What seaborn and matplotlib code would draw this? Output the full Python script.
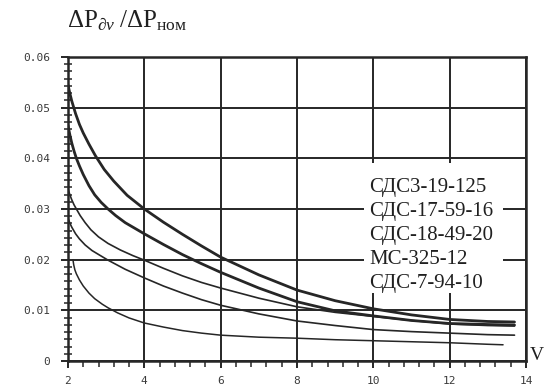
import matplotlib
matplotlib.use("Agg")
import matplotlib.pyplot as plt
from matplotlib.patches import Rectangle
from matplotlib.ticker import AutoMinorLocator, FixedLocator, FixedFormatter
import seaborn as sns
import pandas as pd

# Relative pressure loss vs. speed, one curve per machine type
v_a = [2.0, 2.05, 2.1, 2.2, 2.3, 2.4, 2.55, 2.72, 2.95, 3.2, 3.55, 4.0, 4.5, 5.0, 5.5, 6.0,
       7.0, 8.0, 9.0, 10.0, 11.0, 12.0, 13.0, 13.7]
p_a = [0.0545, 0.0528, 0.0513, 0.0488, 0.0467, 0.0450, 0.0428, 0.0405, 0.0378, 0.0355, 0.0327,
       0.0300, 0.0274, 0.0250, 0.0227, 0.0205, 0.0170, 0.0140, 0.0119, 0.0103, 0.0091, 0.0082,
       0.0078, 0.0077]

v_b = [2.0, 2.05, 2.1, 2.16, 2.22, 2.3, 2.4, 2.55, 2.7, 2.87, 3.05, 3.25, 3.5, 3.75, 4.0, 4.5,
       5.0, 5.5, 6.0, 7.0, 8.0, 9.0, 10.0, 11.0, 12.0, 13.0, 13.7]
p_b = [0.0465, 0.0446, 0.0430, 0.0414, 0.0400, 0.0385, 0.0368, 0.0346, 0.0328, 0.0313, 0.0300,
       0.0287, 0.0273, 0.0262, 0.0251, 0.0230, 0.0210, 0.0192, 0.0175, 0.0144, 0.0117, 0.0099,
       0.0089, 0.0080, 0.0074, 0.0072, 0.0071]

v_c = [2.0, 2.05, 2.1, 2.16, 2.22, 2.32, 2.45, 2.6, 2.8, 3.05, 3.375, 3.7, 4.0, 4.5, 5.0, 5.5,
       6.0, 7.0, 8.0, 9.0, 10.0, 11.0, 12.0, 13.0, 13.7]
p_c = [0.0340, 0.0328, 0.0318, 0.0308, 0.0300, 0.0287, 0.0273, 0.0259, 0.0245, 0.0232, 0.0219,
       0.0208, 0.0199, 0.0183, 0.0168, 0.0155, 0.0144, 0.0124, 0.0107, 0.0096, 0.0088, 0.0080,
       0.0073, 0.0070, 0.0069]

v_d = [2.0, 2.05, 2.1, 2.2, 2.3, 2.45, 2.63, 2.85, 3.05, 3.5, 4.0, 4.5, 5.0, 5.5, 6.0, 7.0,
       8.0, 9.0, 10.0, 11.0, 12.0, 13.0, 13.7]
p_d = [0.0282, 0.0272, 0.0264, 0.0251, 0.0241, 0.0229, 0.0218, 0.0208, 0.0199, 0.0181, 0.0164,
       0.0148, 0.0134, 0.0121, 0.0110, 0.0093, 0.0079, 0.0070, 0.0062, 0.0058, 0.0055, 0.0052,
       0.0051]

v_e = [2.13, 2.15, 2.18, 2.22, 2.3, 2.4, 2.55, 2.7, 2.9, 3.05, 3.3, 3.6, 4.0, 4.5, 5.0, 5.5,
       6.0, 7.0, 8.0, 9.0, 10.0, 11.0, 12.0, 13.0, 13.4]
p_e = [0.0200, 0.0190, 0.0180, 0.0172, 0.0160, 0.0148, 0.0134, 0.0123, 0.0112, 0.0105, 0.0095,
       0.0085, 0.0075, 0.0067, 0.0060, 0.0055, 0.0051, 0.0047, 0.0045, 0.0042, 0.0040, 0.0038,
       0.0036, 0.0033, 0.0032]

series_names = ["СДС3-19-125", "СДС-17-59-16", "СДС-18-49-20", "МС-325-12", "СДС-7-94-10"]
series_v = [v_a, v_b, v_c, v_d, v_e]
series_p = [p_a, p_b, p_c, p_d, p_e]
series_lw = [2.0, 2.0, 1.2, 1.2, 1.1]

x_ticks = [2, 4, 6, 8, 10, 12, 14]
x_labels = ["2", "4", "6", "8", "10", "12", "14"]
y_ticks = [0, 0.01, 0.02, 0.03, 0.04, 0.05, 0.06]
y_labels = ["0", "0.01", "0.02", "0.03", "0.04", "0.05", "0.06"]

ink = "#262626"
sns.set_style("white")
plt.rcParams["font.family"] = ["Liberation Serif", "DejaVu Serif"]
plt.rcParams["mathtext.fontset"] = "custom"
plt.rcParams["mathtext.rm"] = "Liberation Serif"
plt.rcParams["mathtext.it"] = "Liberation Serif:italic"

fig = plt.figure(figsize=(5.46, 3.88), dpi=100)
ax = fig.add_axes([0.1245, 0.0696, 0.8388, 0.7835])

frames = []
for name, vs, ps in zip(series_names, series_v, series_p):
    frames.append(pd.DataFrame({"v": vs, "p": ps, "series": name}))
df = pd.concat(frames, ignore_index=True)

for name, lw in zip(series_names, series_lw):
    sub = df[df["series"] == name]
    sns.lineplot(data=sub, x="v", y="p", ax=ax, color=ink, lw=lw, sort=False,
                 estimator=None, legend=False, zorder=3)

ax.set_xlim(2, 14)
ax.set_ylim(0, 0.06)
ax.xaxis.set_major_locator(FixedLocator(x_ticks))
ax.xaxis.set_major_formatter(FixedFormatter(x_labels))
ax.yaxis.set_major_locator(FixedLocator(y_ticks))
ax.yaxis.set_major_formatter(FixedFormatter(y_labels))
ax.xaxis.set_minor_locator(AutoMinorLocator(5))
ax.yaxis.set_minor_locator(AutoMinorLocator(7))

ax.set_axisbelow(True)
ax.grid(True, which="major", color=ink, lw=1.4)
for s in ax.spines.values():
    s.set_visible(True)
    s.set_color(ink)
    s.set_linewidth(1.8)

ax.tick_params(axis="both", which="both", bottom=True, left=True, top=False, right=False)
ax.tick_params(axis="both", which="major", direction="out", length=5, width=1.4,
               color=ink, labelcolor="#3a3a3a")
ax.tick_params(axis="y", which="minor", direction="inout", length=6, width=1.1, color=ink)
ax.tick_params(axis="x", which="minor", direction="out", length=4, width=1.1, color=ink)
ax.tick_params(axis="y", which="major", pad=8)
ax.tick_params(axis="x", which="major", pad=6)
for lab in ax.get_xticklabels() + ax.get_yticklabels():
    lab.set_fontfamily("DejaVu Sans Mono")
    lab.set_fontsize(8)

ax.set_xlabel("")
ax.set_ylabel("")

# white panel behind the curve names
ax.add_patch(Rectangle((9.75, 0.0135), 3.65, 0.0255, facecolor="white",
                       edgecolor="none", zorder=1.5))

name_baselines = [0.03335, 0.02862, 0.02388, 0.01914, 0.01441]
for name, yb in zip(series_names, name_baselines):
    ax.text(9.89, yb, name, fontsize=15, color="#202020", va="baseline",
            ha="left", zorder=4)

fig.text(0.1227, 0.929, r"$\Delta\mathrm{P}_{\partial\nu}\;/\Delta\mathrm{P}_{\mathrm{ном}}$",
         fontsize=18, color="#202020", va="baseline", ha="left")
fig.text(0.9707, 0.0722, "V", fontsize=14, color="#202020", va="baseline", ha="left")

fig.savefig("out.png", dpi=100, facecolor="white")
